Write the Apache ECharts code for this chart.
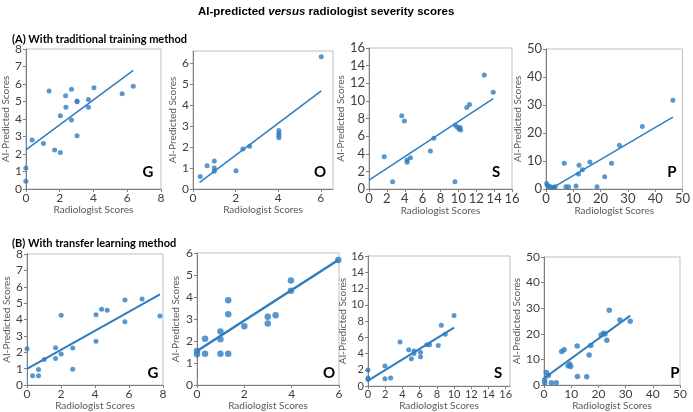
<!DOCTYPE html>
<html>
<head>
<meta charset="utf-8">
<script src="https://cdn.jsdelivr.net/npm/echarts@6/dist/echarts.min.js"></script>
<style>
html,body{margin:0;padding:0;background:#fff;}
#chart{width:693px;height:412px;}
</style>
</head>
<body>
<div id="chart"></div>
<script>
// ---------- DATA ----------
// (A) traditional training method: [radiologist score, AI-predicted score]
const tradG = [[0,1.2],[0,0.45],[0.37,2.8],[1.04,2.6],[1.37,5.6],[1.7,2.23],[2.04,2.08],[2.04,4.19],[2.35,5.33],[2.37,4.67],[2.7,5.7],[2.7,3.94],[3.03,5.03],[3.03,4.98],[3.03,3.05],[3.7,5.12],[3.7,4.67],[4.03,5.79],[5.7,5.45],[6.36,5.87]];
const tradO = [[0.34,0.59],[0.66,1.11],[1.0,1.33],[1.0,1.0],[1.0,0.84],[2.02,0.87],[2.34,1.91],[2.66,2.03],[4.03,2.78],[4.03,2.66],[4.03,2.55],[4.03,2.44],[6.02,6.3]];
const tradS = [[1.7,3.67],[2.64,0.83],[3.66,8.3],[3.96,7.73],[4.26,3.3],[4.26,3.03],[4.64,3.56],[6.87,4.32],[7.25,5.76],[9.62,0.83],[9.66,7.23],[9.89,7.0],[10.08,6.8],[10.2,6.97],[10.26,6.7],[10.94,9.24],[11.25,9.58],[12.9,12.95],[13.9,10.98]];
const tradP = [[0.24,2.0],[0.5,1.3],[1.0,0.8],[1.7,0.8],[2.7,0.6],[3.4,0.8],[6.7,9.2],[7.3,0.8],[8.25,0.8],[11.0,1.07],[11.9,5.36],[12.1,8.45],[13.35,6.9],[16.1,9.6],[18.7,0.8],[21.5,4.4],[24.0,9.17],[26.9,15.6],[35.3,22.3],[46.5,31.7]];
// (B) transfer learning method
const transG = [[0,2.22],[0.33,0.57],[0.68,0.57],[0.68,0.95],[1.01,1.56],[1.68,2.28],[1.68,1.62],[2.01,4.26],[2.01,1.9],[2.69,2.26],[2.69,0.97],[4.06,4.3],[4.06,2.67],[4.39,4.63],[4.72,4.57],[5.76,5.19],[5.76,3.86],[6.77,5.25],[7.82,4.22]];
const transO = [[0,1.55],[0,1.4],[0.34,2.11],[0.34,1.42],[0.99,2.43],[0.99,2.08],[0.99,1.42],[1.32,3.85],[1.32,3.22],[1.32,1.42],[2.0,2.67],[2.99,3.11],[2.99,2.8],[3.32,3.17],[3.97,4.75],[3.97,4.28],[5.97,5.68]];
const transS = [[0,1.98],[0,0.99],[0,0.8],[1.97,2.46],[1.97,0.91],[2.63,0.99],[3.72,5.43],[4.73,4.48],[5.04,3.37],[5.35,4.32],[5.35,4.0],[6.1,4.16],[6.1,3.6],[6.84,5.1],[7.15,5.1],[8.16,4.99],[8.52,7.49],[8.98,6.38],[10.0,8.67]];
const transP = [[0.25,0.88],[0.25,2.1],[0.86,4.9],[1.6,3.75],[2.7,0.88],[4.5,0.88],[6.5,13.1],[7.4,13.75],[8.85,7.6],[9.46,8.25],[9.8,7.25],[12.2,15.25],[12.3,3.4],[15.7,3.25],[16.6,11.75],[17.2,15.5],[21.0,19.6],[21.9,20.25],[22.4,19.9],[23.1,17.5],[24.0,29.25],[27.9,25.4],[31.7,24.9]];
// linear trend lines: [slope, intercept, x start, x end]
const trendTrad = [[0.714,2.24,0,6.36],[0.762,0.08,0.31,6.02],[0.666,1.0,0,13.9],[0.573,-0.96,1.7,46.5]];
const trendTrans = [[0.582,0.99,0,7.82],[0.692,1.55,0,5.97],[0.653,0.67,0,10.0],[0.77,2.7,0.25,31.7]];
const panelLetters = ['G','O','S','P'];
// axis ranges [min, max, interval] per panel
const xRanges = [[0,8,2],[0,6.57,2],[0,16,2],[0,50,10],[0,8,2],[0,6,2],[0,16.5,2],[0,50,10]];
const yRanges = [[0,8,1],[0,6.57,1],[0,16,2],[0,50,10],[0,8,1],[0,6,1],[0,16,2],[0,50,10]];

const titleText = 'AI-predicted {i|versus} radiologist severity scores';
const headingA = '(A) With traditional training method';
const headingB = '(B) With transfer learning method';
const xName = 'Radiologist Scores';
const yName = 'AI-Predicted Scores';

// ---------- LAYOUT ----------
const grids = [
  {left:23, top:49, width:138, height:140},
  {left:193, top:51, width:140, height:138},
  {left:369, top:48, width:143, height:141},
  {left:546, top:49, width:138, height:140},
  {left:27, top:254, width:136, height:135},
  {left:197, top:253, width:142, height:136},
  {left:368, top:256, width:142, height:135},
  {left:544, top:257, width:136, height:134}
];
const labelSize = [12,12,13,13,12,12,11,12];
const symSize = [5,5,5,5,5,6.5,5,5.5];
const lineW = [1.5,1.5,1.5,1.5,2,2.5,2,2];
const yNameGap = [11,11,15,15,14,16,14,17];
const letterPos = [[148,172],[320,172],[496,172],[672,172],[153,373],[329,373],[498,373],[675,373]];

const blue = '#2E7DC0';
const textCol = '#404040';
const allData = [tradG, tradO, tradS, tradP, transG, transO, transS, transP];
const allTrend = trendTrad.concat(trendTrans);

const xAxes = [], yAxes = [], series = [], graphics = [];
for (let i = 0; i < 8; i++) {
  const xr = xRanges[i], yr = yRanges[i];
  const fracX = xr[1] % xr[2] !== 0, fracY = yr[1] % yr[2] !== 0;
  xAxes.push({
    type:'value', gridIndex:i, min:xr[0], max:xr[1], interval:xr[2],
    name:xName, nameLocation:'middle', nameGap:10,
    nameTextStyle:{fontFamily:'Lato', fontSize:10, color:'#595959'},
    axisLine:{show:true, onZero:false, lineStyle:{color:'#7f7f7f', width:1}},
    axisTick:{show:true, length:3, lineStyle:{color:'#7f7f7f'}},
    axisLabel:{fontFamily:'Lato', fontSize:labelSize[i], color:textCol, margin:3, showMaxLabel:!fracX, hideOverlap:false},
    splitLine:{show:false}
  });
  yAxes.push({
    type:'value', gridIndex:i, min:yr[0], max:yr[1], interval:yr[2],
    name:yName, nameLocation:'middle', nameGap:yNameGap[i],
    nameTextStyle:{fontFamily:'Lato', fontSize:10, color:'#595959'},
    axisLine:{show:true, onZero:false, lineStyle:{color:'#7f7f7f', width:1}},
    axisTick:{show:true, length:3, lineStyle:{color:'#7f7f7f'}},
    axisLabel:{fontFamily:'Lato', fontSize:labelSize[i], color:textCol, margin:4, showMaxLabel:!fracY, hideOverlap:false},
    splitLine:{show:false}
  });
  series.push({
    type:'scatter', xAxisIndex:i, yAxisIndex:i, data:allData[i],
    symbolSize:symSize[i], itemStyle:{color:blue}, silent:true, z:3
  });
  const t = allTrend[i];
  series.push({
    type:'line', xAxisIndex:i, yAxisIndex:i,
    data:[[t[2], t[0]*t[2]+t[1]],[t[3], t[0]*t[3]+t[1]]],
    showSymbol:false, symbol:'none', lineStyle:{color:blue, width:lineW[i]},
    clip:true, silent:true, z:2
  });
  graphics.push({
    type:'text', x:letterPos[i][0], y:letterPos[i][1],
    style:{text:panelLetters[i % 4], fill:'#000', font:'bold 15px Lato', align:'center', verticalAlign:'middle'}
  });
}

const chart = echarts.init(document.getElementById('chart'), null, {renderer:'canvas'});
chart.setOption({
  animation:false,
  backgroundColor:'#fff',
  title:[
    {text:titleText, left:193, top:1,
     textStyle:{fontFamily:'Liberation Sans', fontSize:11.5, fontWeight:'bold', color:'#000',
       rich:{i:{fontFamily:'Liberation Sans', fontSize:11.5, fontWeight:'bold', fontStyle:'italic', color:'#000'}}}},
    {text:headingA, left:7, top:29, textStyle:{fontFamily:'Lato', fontSize:11, fontWeight:'bold', color:'#000'}},
    {text:headingB, left:7, top:233, textStyle:{fontFamily:'Lato', fontSize:11, fontWeight:'bold', color:'#000'}}
  ],
  grid: grids.map(g => Object.assign({show:true, borderColor:'#bfbfbf', borderWidth:1, backgroundColor:'transparent'}, g)),
  xAxis:xAxes,
  yAxis:yAxes,
  series:series,
  graphic:graphics
});
</script>
</body>
</html>
